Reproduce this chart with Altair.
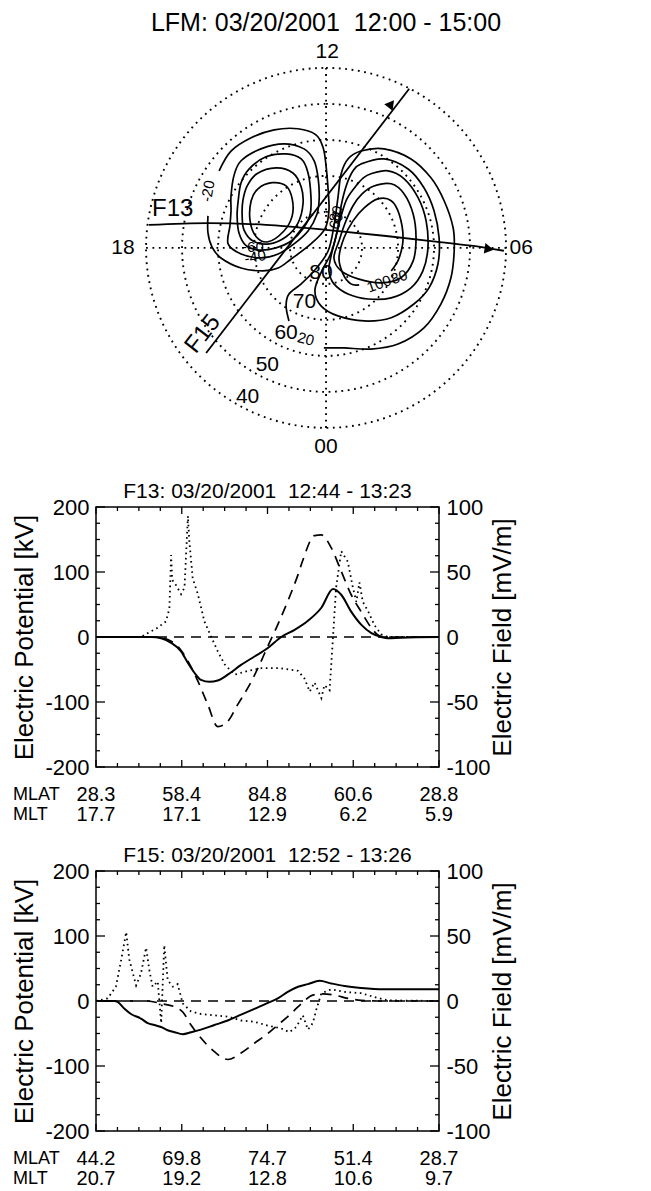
import altair as alt
import numpy as np
import pandas as pd

FONT = "Liberation Sans"

# ---------------- Panel 1: LFM polar potential map (coordinates in degrees of colatitude) ----------------
lfm_title = "LFM: 03/20/2001\u00a0\u00a012:00 - 15:00"
grid_lats = [40, 50, 60, 70, 80]
lat_label_text = ["40", "50", "60", "70", "80"]
lat_label_x = [-21.8, -16.3, -11.1, -6.0, -1.4]
lat_label_y = [-41.4, -32.5, -23.6, -15.0, -6.9]
mlt_label_text = ["12", "06", "00", "18"]
mlt_label_x = [0.3, 54.2, 0.0, -56.4]
mlt_label_y = [54.3, 0.0, -55.3, 0.0]

# potential contours (dawnward x, noonward y)
L1_x = [-32.8, -32.8, -31.7, -29.2, -23.6, -17.5, -13.3, -9.7, -4.2, -0.3, 0.8, 0.6, 0.0, -0.8, -2.8, -7.8, -14.4, -20.8, -26.4, -29.7]
L1_y = [8.9, 4.2, 0.3, -2.8, -5.6, -6.4, -5.6, -3.1, 1.1, 5.3, 10.3, 15.8, 22.8, 27.8, 31.4, 33.1, 32.8, 30.6, 26.9, 21.4]
L2_x = [-26.4, -25.6, -23.6, -18.1, -11.7, -6.1, -3.3, -2.2, -1.9, -2.5, -5.0, -8.9, -13.3, -18.1, -23.6, -27.2, -26.7, -26.4]
L2_y = [14.4, 20.0, 24.2, 27.5, 28.9, 27.5, 24.2, 19.4, 13.9, 9.4, 4.7, 1.1, -1.7, -2.8, -1.7, 1.1, 6.1, 10.3]
L3_x = [-24.4, -23.6, -21.4, -16.7, -11.1, -6.9, -5.0, -4.2, -4.4, -6.4, -9.7, -13.9, -18.6, -22.2, -24.2, -24.7]
L3_y = [13.1, 18.1, 21.9, 25.3, 26.1, 24.7, 20.8, 14.4, 9.4, 5.3, 1.9, 0.0, -0.6, 0.6, 4.2, 8.9]
L4_x = [-23.1, -21.9, -19.2, -13.9, -9.2, -6.9, -6.4, -7.8, -11.1, -15.8, -20.3, -22.8, -23.3]
L4_y = [13.1, 17.2, 20.6, 22.2, 20.8, 16.9, 12.2, 6.9, 3.1, 1.1, 1.9, 5.0, 8.9]
L5_x = [-20.8, -18.9, -15.0, -11.1, -9.4, -9.4, -11.7, -16.1, -19.4, -21.1]
L5_y = [13.1, 16.4, 18.1, 17.2, 13.6, 8.9, 4.7, 1.7, 3.1, 7.5]
R1_x = [-10.3, -11.1, -10.3, -6.9, -2.8, 0.6, 2.2, 3.3, 4.2, 6.1, 9.7, 16.1, 23.6, 29.2, 32.8, 35.3, 35.6, 34.7, 31.9, 27.2, 20.0, 12.5, 5.0, -0.6]
R1_y = [-20.3, -16.1, -12.8, -10.0, -5.8, -0.8, 6.1, 13.9, 20.6, 24.7, 26.9, 27.5, 24.7, 19.4, 13.1, 5.6, -0.8, -8.3, -15.6, -22.2, -26.7, -28.1, -27.8, -27.8]
R2_x = [9.7, 16.1, 22.8, 27.2, 30.0, 31.4, 31.1, 28.6, 24.4, 18.1, 10.6, 3.3, -1.4, -3.1, -1.4, 1.4, 3.1, 4.2, 5.6, 7.5]
R2_y = [23.3, 24.7, 21.9, 16.7, 10.3, 2.8, -4.4, -11.1, -15.6, -19.4, -20.3, -18.9, -16.1, -11.9, -6.9, -1.4, 4.7, 11.7, 17.2, 21.4]
R3_x = [12.5, 17.2, 21.7, 25.6, 27.8, 28.3, 26.9, 23.6, 18.1, 11.7, 6.1, 2.2, 0.8, 1.4, 2.8, 4.2, 5.8, 8.3, 10.3]
R3_y = [20.6, 21.4, 19.2, 13.9, 7.5, 0.0, -6.4, -11.1, -13.9, -14.2, -12.8, -10.0, -6.4, -2.2, 3.3, 8.9, 13.6, 17.2, 19.4]
R4_x = [13.3, 18.1, 21.7, 24.2, 25.0, 24.2, 20.8, 15.3, 8.9, 4.2, 2.2, 3.6, 5.3, 7.5, 10.0]
R4_y = [17.2, 17.8, 15.0, 9.4, 2.8, -3.6, -8.3, -9.7, -8.6, -6.4, -2.8, 1.9, 6.9, 11.7, 15.0]
R5_x = [9.2, 6.9, 4.7, 3.6, 5.0, 7.5, 10.6, 14.4, 18.1, 20.3, 21.4, 20.3, 18.1]
R5_y = [-10.3, -10.0, -7.2, -2.8, 2.8, 7.5, 11.1, 13.6, 13.1, 9.4, 2.8, -2.8, -6.4]
closed_contours = {"L2": (L2_x, L2_y), "L3": (L3_x, L3_y), "L4": (L4_x, L4_y), "L5": (L5_x, L5_y),
                   "R2": (R2_x, R2_y), "R3": (R3_x, R3_y), "R4": (R4_x, R4_y)}
open_contours = {"L1": (L1_x, L1_y), "R1": (R1_x, R1_y), "R5": (R5_x, R5_y)}

clabel_text = ["-20", "-60", "-40", "60", "80", "100", "80", "20"]
clabel_x = [-32.8, -20.3, -19.7, 2.8, 2.8, 14.7, 20.3, -5.6]
clabel_y = [15.8, 0.3, -2.5, 7.5, 9.4, -10.0, -8.1, -25.3]
clabel_ang = [280, 0, 350, 290, 290, 340, 340, 15]

f13_x = [-49.2, -32.8, -16.7, 0.0, 16.7, 29.2, 40.3, 49.4]
f13_y = [6.4, 6.9, 6.4, 5.0, 3.3, 1.9, 0.6, -0.8]
f15_x = [-33.3, 23.1]
f15_y = [-29.2, 44.2]
arrow_x = [45.3, 18.1]
arrow_y = [-0.3, 40.0]
arrow_ang = [8.6, 307.6]
track_label_text = ["F13", "F15"]
track_label_x = [-42.6, -34.2]
track_label_y = [10.8, -23.9]
track_label_ang = [0, 307.6]

# ---------------- Panels 2/3: along-track profiles ----------------
f13_title = "F13: 03/20/2001\u00a0\u00a012:44 - 13:23"
f13_sol_x = [0, 16.1, 19.0, 21.9, 24.8, 26.8, 28.7, 30.6, 33.1, 35.5, 38.4, 42.3, 46.2, 50.1, 54.0, 57.9, 61.8, 65.7, 69.1, 71.5, 74.4, 77.3, 80.3, 83.2, 85.1, 89.0, 100]
f13_sol_v = [0, 0, -2, -9, -22, -40, -55, -66, -69, -67, -58, -43, -30, -17, 0, 11, 25, 45, 74, 65, 39, 19, 6, 0, -2, -1, 0]
f13_dash_x = [0, 18.0, 20.9, 23.8, 26.8, 29.7, 32.6, 35.5, 38.4, 41.3, 44.3, 47.2, 50.1, 53.0, 55.9, 58.9, 60.3, 63.7, 65.7, 68.6, 71.5, 74.4, 77.3, 80.3, 82.2, 84.1, 100]
f13_dash_v = [0, 0, -4, -14, -37, -68, -104, -138, -130, -104, -78, -48, -14, 19, 55, 96, 118, 156, 157, 137, 101, 65, 39, 14, 3, 0, 0]
f13_efield_x = [0, 13.1, 15.1, 17.9, 20.4, 21.4, 21.9, 22.2, 23.3, 24.8, 25.8, 26.8, 27.2, 28.2, 29.7, 31.6, 33.6, 35.5, 37.5, 40.4, 44.3, 48.2, 53.9, 58.9, 60.8, 62.3, 63.7, 65.7, 66.6, 68.1, 69.1, 70.0, 71.5, 73.4, 74.9, 75.9, 76.8, 77.8, 79.3, 81.2, 83.2, 85.1, 100]
f13_efield_v = [0, 0, 3, 7, 12, 22, 63, 44, 40, 33, 38, 93, 74, 45, 33, 12, 0, -11, -21, -29, -26, -24, -24, -26, -32, -42, -35, -47, -37, -41, 0, 38, 66, 58, 38, 27, 42, 27, 20, 9, 2, 0, 0]
f13_mlat = ["28.3", "58.4", "84.8", "60.6", "28.8"]
f13_mlt = ["17.7", "17.1", "12.9", "6.2", "5.9"]

f15_title = "F15: 03/20/2001\u00a0\u00a012:52 - 13:26"
f15_sol_x = [0, 5.4, 6.3, 8.3, 10.2, 13.1, 15.1, 17.0, 19.0, 20.9, 22.9, 25.3, 27.7, 30.6, 34.5, 38.4, 42.3, 46.2, 50.1, 53.0, 55.9, 58.9, 61.8, 65.2, 68.6, 72.5, 77.3, 84.1, 100]
f15_sol_v = [0, 0, -1.5, -12, -20, -27, -34, -37, -40, -45, -48, -51, -48, -44, -37, -30, -21, -12, -3, 4, 14, 22, 26, 31, 27, 23, 20, 18, 18]
f15_dash_x = [0, 15.1, 19.0, 22.9, 25.3, 27.7, 30.6, 34.5, 38.4, 42.3, 46.2, 50.1, 53.0, 55.9, 57.9, 60.3, 63.2, 66.1, 69.6, 73.4, 77.3, 82.2, 100]
f15_dash_v = [0, 0, -4, -9, -17, -37, -57, -78, -90, -80, -65, -50, -37, -24, -14, -2, 9, 11, 9, 4, 1, 0, 0]
f15_efield_x = [0, 3.4, 5.8, 7.3, 8.8, 9.7, 11.7, 13.1, 14.6, 15.6, 16.5, 18.0, 19.0, 19.9, 20.9, 22.4, 23.8, 25.3, 27.7, 30.6, 34.5, 38.4, 42.3, 46.2, 50.1, 53.9, 56.4, 58.4, 60.3, 61.8, 63.2, 64.2, 65.7, 68.6, 72.5, 77.3, 81.2, 85.1, 100]
f15_efield_v = [0, 2, 11, 31, 53, 32, 12, 21, 41, 23, 11, 15, -17, 43, 16, 11, 13, -2, -8, -10, -11, -12, -15, -16, -19, -21, -24, -20, -11, -22, -17, -7, 6, 9, 7, 6, 3, 0.5, 0]
f15_mlat = ["44.2", "69.8", "74.7", "51.4", "28.7"]
f15_mlt = ["20.7", "19.2", "12.8", "10.6", "9.7"]

# ---------------- layout constants ----------------
PX_PER_DEG = 3.6
P1_W, P1_H = 460, 422
P1_XMIN = -63.9
P1_YMIN = -59.2
P2_W, P2_H = 343, 260
LABEL_EXPR = "datum.value < 0 ? '-' + abs(datum.value) : '' + datum.value"


def polar_panel():
    xs = alt.Scale(domain=[P1_XMIN, P1_XMIN + P1_W / PX_PER_DEG], nice=False, zero=False)
    ys = alt.Scale(domain=[P1_YMIN, P1_YMIN + P1_H / PX_PER_DEG], nice=False, zero=False)
    X = lambda f: alt.X(f, type="quantitative", scale=xs, axis=None)
    Y = lambda f: alt.Y(f, type="quantitative", scale=ys, axis=None)

    theta = np.linspace(0, 2 * np.pi, 241)
    rows = []
    for lat in grid_lats:
        r = 90 - lat
        for i, t in enumerate(theta):
            rows.append({"lat": lat, "i": i, "x": r * np.sin(t), "y": r * np.cos(t)})
    grid_df = pd.DataFrame(rows)
    rmax = 90 - min(grid_lats)
    cross_df = pd.DataFrame({"seg": ["ns", "ns", "ew", "ew"], "i": [0, 1, 0, 1],
                             "x": [0, 0, -rmax, rmax], "y": [-rmax, rmax, 0, 0]})

    def contour_df(d):
        rr = []
        for k, (cx, cy) in d.items():
            for i, (a, b) in enumerate(zip(cx, cy)):
                rr.append({"c": k, "i": i, "x": a, "y": b})
        return pd.DataFrame(rr)

    grid = alt.Chart(grid_df).mark_line(color="black", strokeWidth=1.9, strokeDash=[1.8, 4.6]).encode(
        x=X("x"), y=Y("y"), detail="lat:N", order="i:Q")
    cross = alt.Chart(cross_df).mark_line(color="black", strokeWidth=1.9, strokeDash=[1.8, 4.6]).encode(
        x=X("x"), y=Y("y"), detail="seg:N", order="i:Q")
    closed = alt.Chart(contour_df(closed_contours)).mark_line(
        color="black", strokeWidth=1.7, interpolate="cardinal-closed").encode(
        x=X("x"), y=Y("y"), detail="c:N", order="i:Q")
    opened = alt.Chart(contour_df(open_contours)).mark_line(
        color="black", strokeWidth=1.7, interpolate="cardinal").encode(
        x=X("x"), y=Y("y"), detail="c:N", order="i:Q")
    t13 = alt.Chart(pd.DataFrame({"x": f13_x, "y": f13_y, "i": range(len(f13_x))})).mark_line(
        color="black", strokeWidth=1.8, interpolate="monotone").encode(x=X("x"), y=Y("y"), order="i:Q")
    t15 = alt.Chart(pd.DataFrame({"x": f15_x, "y": f15_y, "i": range(len(f15_x))})).mark_line(
        color="black", strokeWidth=1.8).encode(x=X("x"), y=Y("y"), order="i:Q")
    arrows = alt.Chart(pd.DataFrame({"x": arrow_x, "y": arrow_y, "a": arrow_ang})).mark_point(
        shape="triangle-right", filled=True, color="black", size=110, opacity=1).encode(
        x=X("x"), y=Y("y"), angle=alt.Angle("a:Q", scale=None))
    lat_lab = alt.Chart(pd.DataFrame({"x": lat_label_x, "y": lat_label_y, "t": lat_label_text})).mark_text(
        font=FONT, fontSize=21, color="black").encode(x=X("x"), y=Y("y"), text="t:N")
    mlt_lab = alt.Chart(pd.DataFrame({"x": mlt_label_x, "y": mlt_label_y, "t": mlt_label_text})).mark_text(
        font=FONT, fontSize=21, color="black").encode(x=X("x"), y=Y("y"), text="t:N")
    c_lab = alt.Chart(pd.DataFrame({"x": clabel_x, "y": clabel_y, "t": clabel_text, "a": clabel_ang})).mark_text(
        font=FONT, fontSize=15, color="black").encode(
        x=X("x"), y=Y("y"), text="t:N", angle=alt.Angle("a:Q", scale=None))
    tr_lab = alt.Chart(pd.DataFrame({"x": track_label_x, "y": track_label_y, "t": track_label_text,
                                     "a": track_label_ang})).mark_text(
        font=FONT, fontSize=24, color="black").encode(
        x=X("x"), y=Y("y"), text="t:N", angle=alt.Angle("a:Q", scale=None))

    return alt.layer(grid, cross, closed, opened, t13, t15, arrows, lat_lab, mlt_lab, c_lab, tr_lab).properties(
        width=P1_W, height=P1_H,
        title=alt.Title(lfm_title, font=FONT, fontSize=25, fontWeight="normal", color="black",
                        anchor="middle", offset=3))


def track_panel(title, sx, sv, dx, dv, ex, ev, mlat, mlt):
    W, H = P2_W, P2_H
    xs = alt.Scale(domain=[0, 100], nice=False, zero=False)
    ys = alt.Scale(domain=[-200, 200], nice=False)
    es = alt.Scale(domain=[-100, 100], nice=False)
    XQ = alt.X("x:Q", scale=xs, axis=None)

    left_axis = alt.Axis(orient="left", values=[-200, -100, 0, 100, 200], ticks=False, tickSize=0, domain=False,
                         grid=False, labelFont=FONT, labelFontSize=22, labelPadding=7, labelColor="black",
                         labelExpr=LABEL_EXPR,
                         labelFlush=False, labelOverlap=False, title="Electric Potential [kV]", titleFont=FONT,
                         titleFontSize=26, titleFontWeight="normal", titleColor="black", titlePadding=7)
    right_axis = alt.Axis(orient="right", values=[-100, -50, 0, 50, 100], ticks=False, tickSize=0, domain=False,
                          grid=False, labelFont=FONT, labelFontSize=22, labelPadding=7, labelColor="black",
                          labelExpr=LABEL_EXPR,
                          labelFlush=False, labelOverlap=False, title="Electric Field [mV/m]", titleFont=FONT,
                          titleFontSize=26, titleFontWeight="normal", titleColor="black", titlePadding=-1,
                          titleAngle=270, titleBaseline="top")

    frame = alt.Chart(pd.DataFrame({"k": [0]})).mark_rect(fillOpacity=0, stroke="black", strokeWidth=1.5).encode(
        x=alt.value(0), x2=alt.value(W), y=alt.value(0), y2=alt.value(H))
    zero = alt.Chart(pd.DataFrame({"z": [0]})).mark_rule(color="black", strokeWidth=1.6, strokeDash=[10, 7]).encode(
        y=alt.Y("z:Q", scale=ys, axis=None))
    dashed = alt.Chart(pd.DataFrame({"x": dx, "v": dv, "i": range(len(dx))})).mark_line(
        color="black", strokeWidth=1.7, strokeDash=[10, 7], interpolate="monotone").encode(
        x=XQ, y=alt.Y("v:Q", scale=ys, axis=None), order="i:Q")
    solid = alt.Chart(pd.DataFrame({"x": sx, "v": sv, "i": range(len(sx))})).mark_line(
        color="black", strokeWidth=2, interpolate="monotone").encode(
        x=XQ, y=alt.Y("v:Q", scale=ys, axis=left_axis), order="i:Q")
    dotted = alt.Chart(pd.DataFrame({"x": ex, "v": ev, "i": range(len(ex))})).mark_line(
        color="black", strokeWidth=1.8, strokeDash=[1.6, 3.6]).encode(
        x=XQ, y=alt.Y("v:Q", scale=es, axis=right_axis), order="i:Q")

    yt = np.arange(-200, 201, 25)
    ymaj = pd.DataFrame({"t": yt[yt % 100 == 0]})
    ymin = pd.DataFrame({"t": yt[yt % 100 != 0]})
    xt = np.arange(0, 17) * 6.25
    xmaj = pd.DataFrame({"t": xt[::4]})
    xmin = pd.DataFrame({"t": [v for k, v in enumerate(xt) if k % 4]})
    tick_layers = []
    for df, ln in ((ymaj, 9), (ymin, 4)):
        tick_layers.append(alt.Chart(df).mark_rule(color="black", strokeWidth=1.3).encode(
            y=alt.Y("t:Q", scale=ys, axis=None), x=alt.value(0), x2=alt.value(ln)))
        tick_layers.append(alt.Chart(df).mark_rule(color="black", strokeWidth=1.3).encode(
            y=alt.Y("t:Q", scale=ys, axis=None), x=alt.value(W), x2=alt.value(W - ln)))
    for df, ln in ((xmaj, 7), (xmin, 4)):
        tick_layers.append(alt.Chart(df).mark_rule(color="black", strokeWidth=1.3).encode(
            x=alt.X("t:Q", scale=xs, axis=None), y=alt.value(0), y2=alt.value(ln)))
        tick_layers.append(alt.Chart(df).mark_rule(color="black", strokeWidth=1.3).encode(
            x=alt.X("t:Q", scale=xs, axis=None), y=alt.value(H), y2=alt.value(H - ln)))

    lab_df = pd.DataFrame({"x": [0, 25, 50, 75, 100], "lat": mlat, "lt": mlt})
    lat_txt = alt.Chart(lab_df).mark_text(font=FONT, fontSize=20, color="black", baseline="middle").encode(
        x=XQ, y=alt.value(H + 28), text="lat:N")
    lt_txt = alt.Chart(lab_df).mark_text(font=FONT, fontSize=20, color="black", baseline="middle").encode(
        x=XQ, y=alt.value(H + 48), text="lt:N")
    head = pd.DataFrame({"h": ["MLAT", "MLT"], "r": [0, 1]})
    h1 = alt.Chart(head[head.r == 0]).mark_text(font=FONT, fontSize=18, color="black", baseline="middle",
                                                align="left").encode(
        x=alt.value(-83), y=alt.value(H + 28), text="h:N")
    h2 = alt.Chart(head[head.r == 1]).mark_text(font=FONT, fontSize=18, color="black", baseline="middle",
                                                align="left").encode(
        x=alt.value(-83), y=alt.value(H + 48), text="h:N")

    return alt.layer(frame, zero, dashed, solid, *tick_layers, lat_txt, lt_txt, h1, h2, dotted).resolve_scale(
        y="independent").properties(
        width=W, height=H,
        title=alt.Title(title, font=FONT, fontSize=21, fontWeight="normal", color="black",
                        anchor="middle", offset=-6))


p1 = polar_panel()
p2 = track_panel(f13_title, f13_sol_x, f13_sol_v, f13_dash_x, f13_dash_v, f13_efield_x, f13_efield_v,
                 f13_mlat, f13_mlt)
p3 = track_panel(f15_title, f15_sol_x, f15_sol_v, f15_dash_x, f15_dash_v, f15_efield_x, f15_efield_v,
                 f15_mlat, f15_mlt)

chart = alt.vconcat(p1, p2, p3, spacing=20).configure_view(stroke=None).properties(
    padding={"left": 3, "top": 3, "right": 5, "bottom": 0}, background="white")

chart.save("out.html", embed_options={"renderer": "svg", "actions": False})
